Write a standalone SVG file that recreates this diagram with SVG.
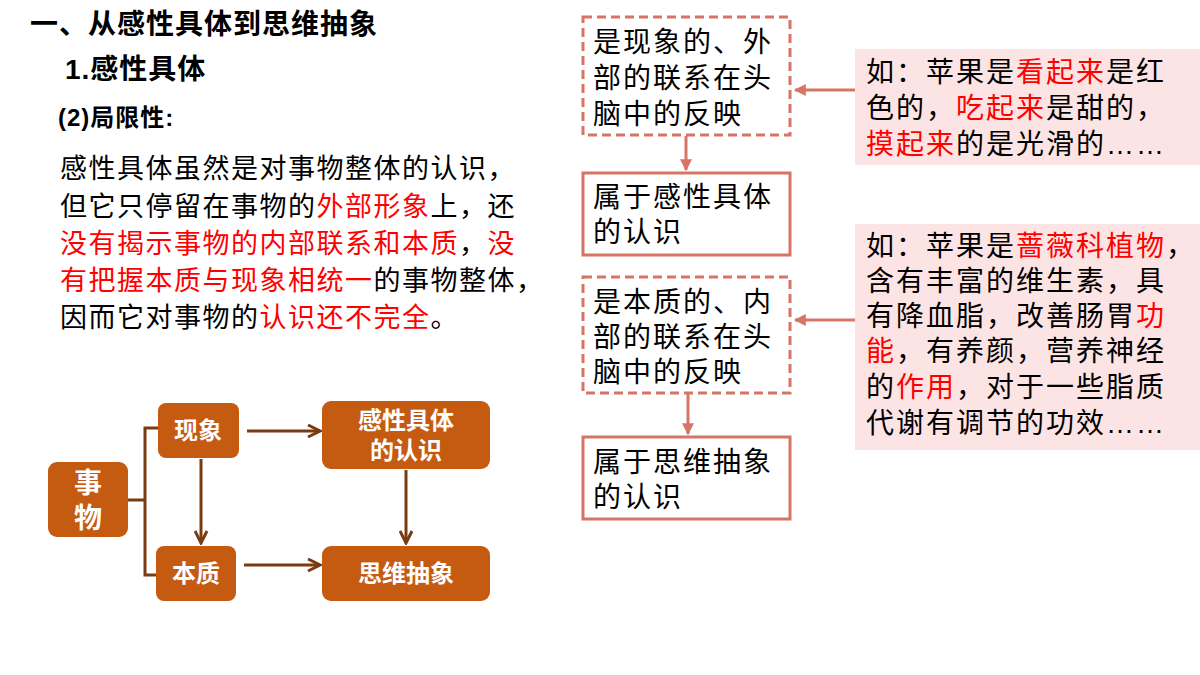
<svg xmlns="http://www.w3.org/2000/svg" width="1200" height="675" viewBox="0 0 1200 675">
<style>
text{font-family:"Liberation Sans","Noto Sans CJK SC",sans-serif}
.h{font-weight:bold;fill:#000}
.p{font-size:28px;letter-spacing:2px;fill:#000;font-family:"Liberation Serif","Noto Sans CJK SC",serif}
.q{font-size:27px;letter-spacing:1.5px;fill:#000;font-family:"Liberation Serif","Noto Sans CJK SC",serif}
.r{fill:#ff0000}
.bx{fill:#fff;stroke:#d67565;stroke-width:3}
.ds{stroke-dasharray:9 5}
.pk{fill:#fde4e4}
.ob{fill:#c55a11}
.ot{fill:#fff;font-weight:bold;font-size:24px;text-anchor:middle}
.cl{stroke:#d67565;stroke-width:3;fill:none}
.fl{stroke:#7b3b12;stroke-width:3;fill:none}
</style>
<defs>
<marker id="ma" viewBox="0 0 10 10" refX="9" refY="5" markerWidth="4" markerHeight="4" orient="auto"><path d="M0,0L10,5L0,10z" fill="#d67565"/></marker>
<marker id="mb" viewBox="0 0 10 10" refX="9" refY="5" markerWidth="5" markerHeight="5" orient="auto"><path d="M1,1L9,5L1,9" fill="none" stroke="#7b3b12" stroke-width="2"/></marker>
</defs>
<rect width="1200" height="675" fill="#fff"/>
<text class="h" x="30" y="34" font-size="28" letter-spacing="1">一、从感性具体到思维抽象</text>
<text class="h" x="65" y="79" font-size="28" letter-spacing="1">1.感性具体</text>
<text class="h" x="58" y="126" font-size="24" letter-spacing="1">(2)局限性:</text>
<g class="q">
<text x="60" y="178">感性具体虽然是对事物整体的认识，</text>
<text x="60" y="216">但它只停留在事物的<tspan class="r">外部形象</tspan>上，还</text>
<text x="60" y="253"><tspan class="r">没有揭示事物的内部联系和本质</tspan>，<tspan class="r">没</tspan></text>
<text x="60" y="290"><tspan class="r">有把握本质与现象相统一</tspan>的事物整体，</text>
<text x="60" y="327">因而它对事物的<tspan class="r">认识还不完全</tspan>。</text>
</g>
<g id="connectors">
<line class="cl" x1="686" y1="136" x2="686" y2="170" marker-end="url(#ma)"/>
<line class="cl" x1="688" y1="394" x2="688" y2="434" marker-end="url(#ma)"/>
<line class="cl" x1="855" y1="90" x2="795" y2="90" marker-end="url(#ma)"/>
<line class="cl" x1="855" y1="320" x2="795" y2="320" marker-end="url(#ma)"/>
<path class="fl" d="M128,500H145M158,428H145V575H156"/>
<line class="fl" x1="247" y1="431" x2="320" y2="431" marker-end="url(#mb)"/>
<line class="fl" x1="244" y1="565" x2="320" y2="565" marker-end="url(#mb)"/>
<line class="fl" x1="201" y1="459" x2="201" y2="543" marker-end="url(#mb)"/>
<line class="fl" x1="406" y1="470" x2="406" y2="543" marker-end="url(#mb)"/>
</g>
<g id="b1"><rect class="bx ds" x="583" y="17" width="207" height="118"/>
<g class="p"><text x="593" y="52">是现象的、外</text><text x="593" y="88">部的联系在头</text><text x="593" y="124">脑中的反映</text></g></g>
<g id="b2"><rect class="bx" x="583" y="173" width="207" height="82"/>
<g class="p"><text x="593" y="207">属于感性具体</text><text x="593" y="242">的认识</text></g></g>
<g id="b3"><rect class="bx ds" x="583" y="277" width="207" height="116"/>
<g class="p"><text x="593" y="312">是本质的、内</text><text x="593" y="347">部的联系在头</text><text x="593" y="382">脑中的反映</text></g></g>
<g id="b4"><rect class="bx" x="583" y="437" width="207" height="82"/>
<g class="p"><text x="593" y="472">属于思维抽象</text><text x="593" y="507">的认识</text></g></g>
<g id="pk1"><rect class="pk" x="855" y="49" width="345" height="116"/>
<g class="p"><text x="866" y="82">如：苹果是<tspan class="r">看起来</tspan>是红</text><text x="866" y="118">色的，<tspan class="r">吃起来</tspan>是甜的，</text><text x="866" y="154"><tspan class="r">摸起来</tspan>的是光滑的……</text></g></g>
<g id="pk2"><rect class="pk" x="855" y="224" width="345" height="226"/>
<g class="p"><text x="866" y="256">如：苹果是<tspan class="r">蔷薇科植物</tspan>，</text><text x="866" y="291">含有丰富的维生素，具</text><text x="866" y="326">有降血脂，改善肠胃<tspan class="r">功</tspan></text><text x="866" y="361"><tspan class="r">能</tspan>，有养颜，营养神经</text><text x="866" y="397">的<tspan class="r">作用</tspan>，对于一些脂质</text><text x="866" y="433">代谢有调节的功效……</text></g></g>
<g id="n1"><rect class="ob" x="48" y="462" width="80" height="75" rx="9"/><text class="ot" x="88" y="493" style="font-size:28px">事</text><text class="ot" x="88" y="528" style="font-size:28px">物</text></g>
<g id="n2"><rect class="ob" x="158" y="403" width="81" height="55" rx="8"/><text class="ot" x="198" y="439">现象</text></g>
<g id="n3"><rect class="ob" x="156" y="546" width="80" height="55" rx="8"/><text class="ot" x="196" y="582">本质</text></g>
<g id="n4"><rect class="ob" x="322" y="401" width="168" height="68" rx="9"/><text class="ot" x="406" y="429">感性具体</text><text class="ot" x="406" y="459">的认识</text></g>
<g id="n5"><rect class="ob" x="322" y="546" width="168" height="55" rx="9"/><text class="ot" x="406" y="582">思维抽象</text></g>
</svg>
